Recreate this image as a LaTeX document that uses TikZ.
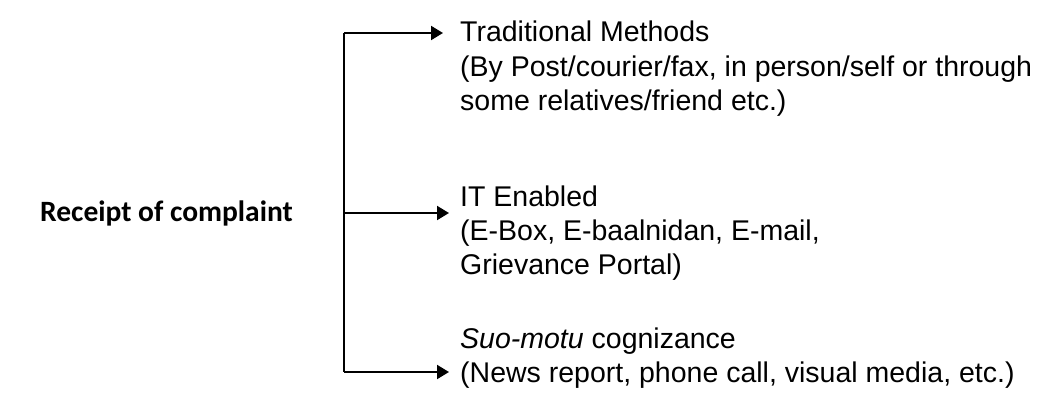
\documentclass[tikz,border=0pt]{standalone}
\usepackage{fontspec}
\setmainfont{Liberation Sans}
\newfontfamily\calibri{Carlito}
\usetikzlibrary{arrows.meta}

\begin{document}
\begin{tikzpicture}[x=1pt, y=-1pt, >={Triangle[length=12pt,width=14pt]},
  t/.style={anchor=base west, inner sep=0pt, font=\fontsize{28.5}{34}\selectfont},
  lbl/.style={anchor=base east, inner sep=0pt, font=\calibri\bfseries\fontsize{29.5}{34}\selectfont}]
\useasboundingbox (0,0) rectangle (1046,396);
\node[lbl] (rc) at (293,221) {Receipt of complaint};
% branch ends
\coordinate (top) at (344,33); \coordinate (mid) at (344,213); \coordinate (bot) at (344,372);
\coordinate (e1) at (443,33); \coordinate (e2) at (449,213); \coordinate (e3) at (449,372);
% text lines
\node[t] (a1) at (460,42) {Traditional Methods};
\node[t] (a2) at (460,76) {(By Post/courier/fax, in person/self or through};
\node[t] (a3) at (460,110) {some relatives/friend etc.)};
\node[t] (b1) at (460,206) {IT Enabled};
\node[t] (b2) at (460,240) {(E-Box, E-baalnidan, E-mail,};
\node[t] (b3) at (460,274) {Grievance Portal)};
\node[t] (c1) at (460,348) {\textit{Suo-motu} cognizance};
\node[t] (c2) at (460,382) {(News report, phone call, visual media, etc.)};
\draw[line width=2pt] (top) -- (bot);
\foreach \s/\e in {top/e1, mid/e2, bot/e3} \draw[->, line width=2pt] (\s) -- (\e);
\end{tikzpicture}
\end{document}
